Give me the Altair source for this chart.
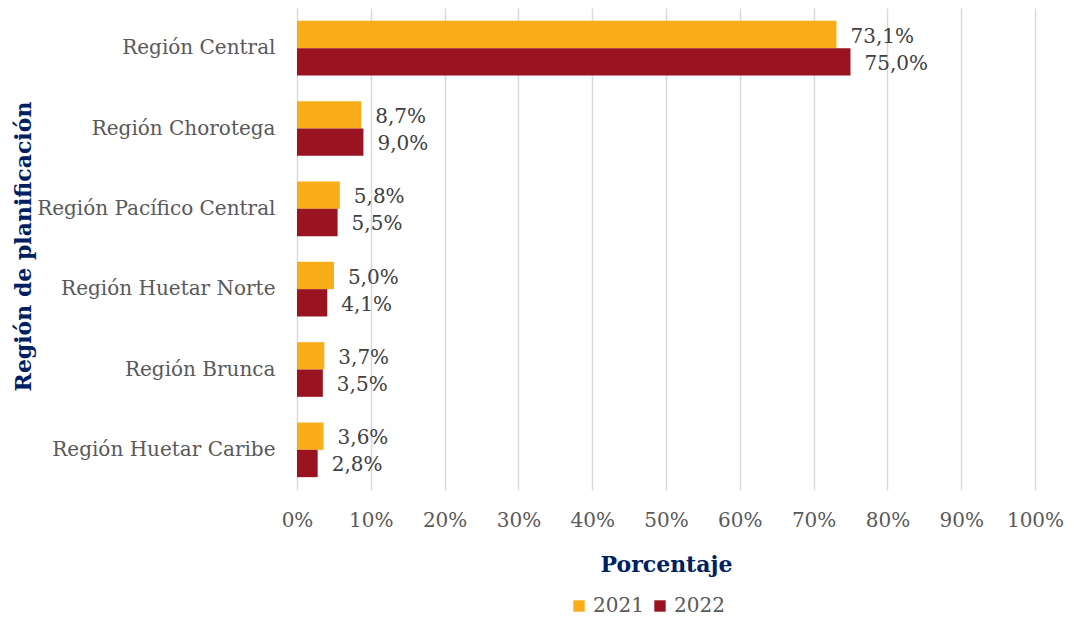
import altair as alt
import pandas as pd

regions = ["Región Central", "Región Chorotega", "Región Pacífico Central",
           "Región Huetar Norte", "Región Brunca", "Región Huetar Caribe"]
v2021 = [73.1, 8.7, 5.8, 5.0, 3.7, 3.6]
v2022 = [75.0, 9.0, 5.5, 4.1, 3.5, 2.8]
years = ["2021", "2022"]
colors = ["#F9AD19", "#9A1321"]
x_ticks = [0, 10, 20, 30, 40, 50, 60, 70, 80, 90, 100]

rows = []
for r, a, b in zip(regions, v2021, v2022):
    rows.append({"region": r, "year": "2021", "value": a})
    rows.append({"region": r, "year": "2022", "value": b})
df = pd.DataFrame(rows)
df["label"] = df["value"].map(lambda v: f"{v:.1f}%".replace(".", ","))

FONT = "DejaVu Serif"

y = alt.Y("region:N", sort=regions,
          scale=alt.Scale(paddingInner=0.32, paddingOuter=0.16),
          axis=alt.Axis(title="Región de planificación", domain=False, ticks=False,
                        labelPadding=22, labelFontSize=20, labelColor="#595959",
                        labelLimit=400,
                        labelFont=FONT, titleFont=FONT, titleFontSize=22,
                        titleColor="#002060", titleFontWeight="bold",
                        titleX=-274, titleY=238, titleBaseline="middle",
                        titleAlign="center", titleAngle=-90))
x = alt.X("value:Q", scale=alt.Scale(domain=[0, 100], nice=False),
          axis=alt.Axis(title="Porcentaje", values=x_ticks,
                        labelExpr="datum.value + '%'", domain=False, ticks=False,
                        labelFlush=False, labelOverlap=False,
                        labelPadding=20, labelFontSize=20, labelColor="#595959",
                        labelFont=FONT, titleFont=FONT, titleFontSize=22,
                        titleColor="#002060", titleFontWeight="bold",
                        titlePadding=24, grid=True, gridColor="#D9D9D9",
                        gridWidth=1.5))
color = alt.Color("year:N", scale=alt.Scale(domain=years, range=colors),
                  legend=alt.Legend(title=None, orient="none", legendX=272,
                                    legendY=588, direction="horizontal",
                                    symbolType="square", symbolSize=130,
                                    symbolStrokeWidth=0,
                                    labelFontSize=20, labelFont=FONT,
                                    labelColor="#595959", columnPadding=6,
                                    labelOffset=4))

bars = alt.Chart(df).mark_bar().encode(
    y=y, x=x, color=color, yOffset=alt.YOffset("year:N", sort=years)
)
text = alt.Chart(df).mark_text(align="left", baseline="middle", dx=14, dy=2,
                               fontSize=20, font=FONT, color="#404040").encode(
    y=alt.Y("region:N", sort=regions), x="value:Q", text="label:N",
    yOffset=alt.YOffset("year:N", sort=years)
)

chart = (bars + text).properties(
    width=738, height=482,
    autosize=alt.AutoSizeParams(type="none"),
    padding={"left": 289, "top": 0, "right": 31, "bottom": 128},
).configure_view(stroke=None)

chart.save("out.html", embed_options={"renderer": "svg", "actions": False})
